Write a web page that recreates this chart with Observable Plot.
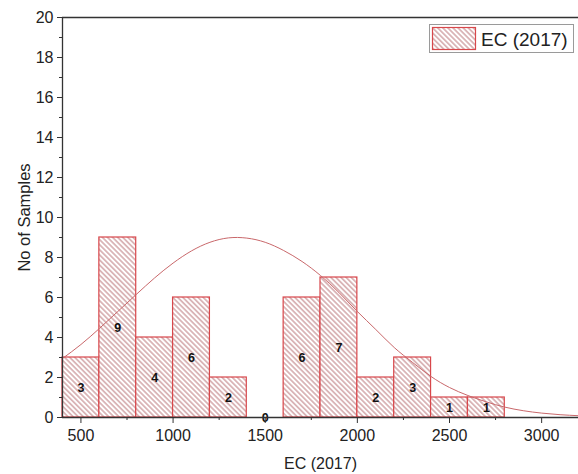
<!DOCTYPE html>
<html><head><meta charset="utf-8">
<script src="https://cdn.jsdelivr.net/npm/d3@7"></script>
<script src="https://cdn.jsdelivr.net/npm/@observablehq/plot@0.6"></script>
<style>body{margin:0;background:#fff} svg{display:block}</style>
</head><body><div id="chart"></div>
<script>
// ---- data ----
const binStart = [400, 600, 800, 1000, 1200, 1400, 1600, 1800, 2000, 2200, 2400, 2600];
const binWidth = 200;
const counts = [3, 9, 4, 6, 2, 0, 6, 7, 2, 3, 1, 1];
const curveX = [400, 500, 600, 700, 800, 900, 1000, 1100, 1200, 1300, 1400, 1500, 1600, 1700, 1800, 1900, 2000, 2100, 2200, 2300, 2400, 2500, 2600, 2700, 2800, 2900, 3000, 3100, 3200];
const curveY = [2.95, 3.65, 4.45, 5.3, 6.15, 6.98, 7.72, 8.33, 8.76, 8.98, 8.97, 8.76, 8.35, 7.8, 7.1, 6.25, 5.3, 4.4, 3.5, 2.75, 2.05, 1.5, 1.1, 0.78, 0.52, 0.34, 0.22, 0.14, 0.09];
const xMajorTicks = [500, 1000, 1500, 2000, 2500, 3000];
const xMinorTicks = [750, 1250, 1750, 2250, 2750];
const yMajorTicks = [0, 2, 4, 6, 8, 10, 12, 14, 16, 18, 20];
const yMinorTicks = [1, 3, 5, 7, 9, 11, 13, 15, 17, 19];
const seriesName = "EC (2017)";
const xTitle = "EC (2017)";
const yTitle = "No of Samples";

const bins = binStart.map((s, i) => ({x1: s, x2: s + binWidth, n: counts[i]}));
const curve = curveX.map((x, i) => ({x, y: curveY[i]}));

const barStroke = "#d8474b";
const axisColor = "#333";
const fmt = d => String(d);

const svg = Plot.plot({
  width: 578, height: 474,
  marginLeft: 62, marginRight: 0, marginTop: 17, marginBottom: 57,
  style: {fontFamily: "'Liberation Sans', Arial, sans-serif", fontSize: "16px", color: "#222", background: "#fff"},
  x: {domain: [400, 3200]},
  y: {domain: [0, 20]},
  marks: [
    Plot.rectY(bins.filter(d => d.n > 0), {x1: "x1", x2: "x2", y: "n", fill: "url(#hatch)", stroke: barStroke, strokeWidth: 1.2}),
    Plot.line(curve, {x: "x", y: "y", stroke: "#c9686b", strokeWidth: 1, curve: "natural"}),
    Plot.text(bins, {x: d => (d.x1 + d.x2) / 2, y: d => d.n / 2, text: "n", fontWeight: "bold", fontSize: 12.5, fill: "#111"}),
    Plot.ruleY([20], {stroke: axisColor, strokeWidth: 1.3}),
    Plot.ruleY([0], {stroke: axisColor, strokeWidth: 1.3}),
    Plot.ruleX([400], {stroke: axisColor, strokeWidth: 1.3}),
    Plot.axisX({ticks: xMajorTicks, tickFormat: fmt, tickSize: 6, tickPadding: 6, fontSize: 16, label: null, stroke: axisColor}),
    Plot.axisX({ticks: xMinorTicks, tickSize: 3, text: null, label: null, stroke: axisColor}),
    Plot.axisY({ticks: yMajorTicks, tickFormat: fmt, tickSize: 5, tickPadding: 4, fontSize: 16, label: null, stroke: axisColor}),
    Plot.axisY({ticks: yMinorTicks, tickSize: 3, text: null, label: null, stroke: axisColor}),
    Plot.text([xTitle], {frameAnchor: "bottom", dy: 46, textAnchor: "middle", lineAnchor: "middle", fontSize: 16, fill: "#222"}),
    Plot.text([yTitle], {frameAnchor: "left", dx: -38, rotate: -90, textAnchor: "middle", lineAnchor: "middle", fontSize: 16.5, fill: "#222"})
  ]
});

svg.insertAdjacentHTML("afterbegin",
  `<defs><pattern id="hatch" patternUnits="userSpaceOnUse" width="3.6" height="3.6" patternTransform="rotate(-45)">
     <rect width="3.6" height="3.6" fill="#fff"/>
     <line x1="1.8" y1="-1" x2="1.8" y2="4.6" stroke="#b06266" stroke-width="0.85"/>
   </pattern></defs>`);

const g = document.createElementNS("http://www.w3.org/2000/svg", "g");
g.innerHTML = `<rect x="429.5" y="24.5" width="144" height="28" fill="#fff" stroke="#9a9a9a" stroke-width="1"/>
  <rect x="432.5" y="27.5" width="43" height="22" fill="url(#hatch)" stroke="${barStroke}" stroke-width="1.2"/>
  <text x="481" y="45.5" font-size="19" fill="#222" text-anchor="start" font-family="'Liberation Sans', Arial, sans-serif"></text>`;
g.querySelector("text").textContent = seriesName;
svg.appendChild(g);

document.getElementById("chart").appendChild(svg);
</script>
</body></html>
